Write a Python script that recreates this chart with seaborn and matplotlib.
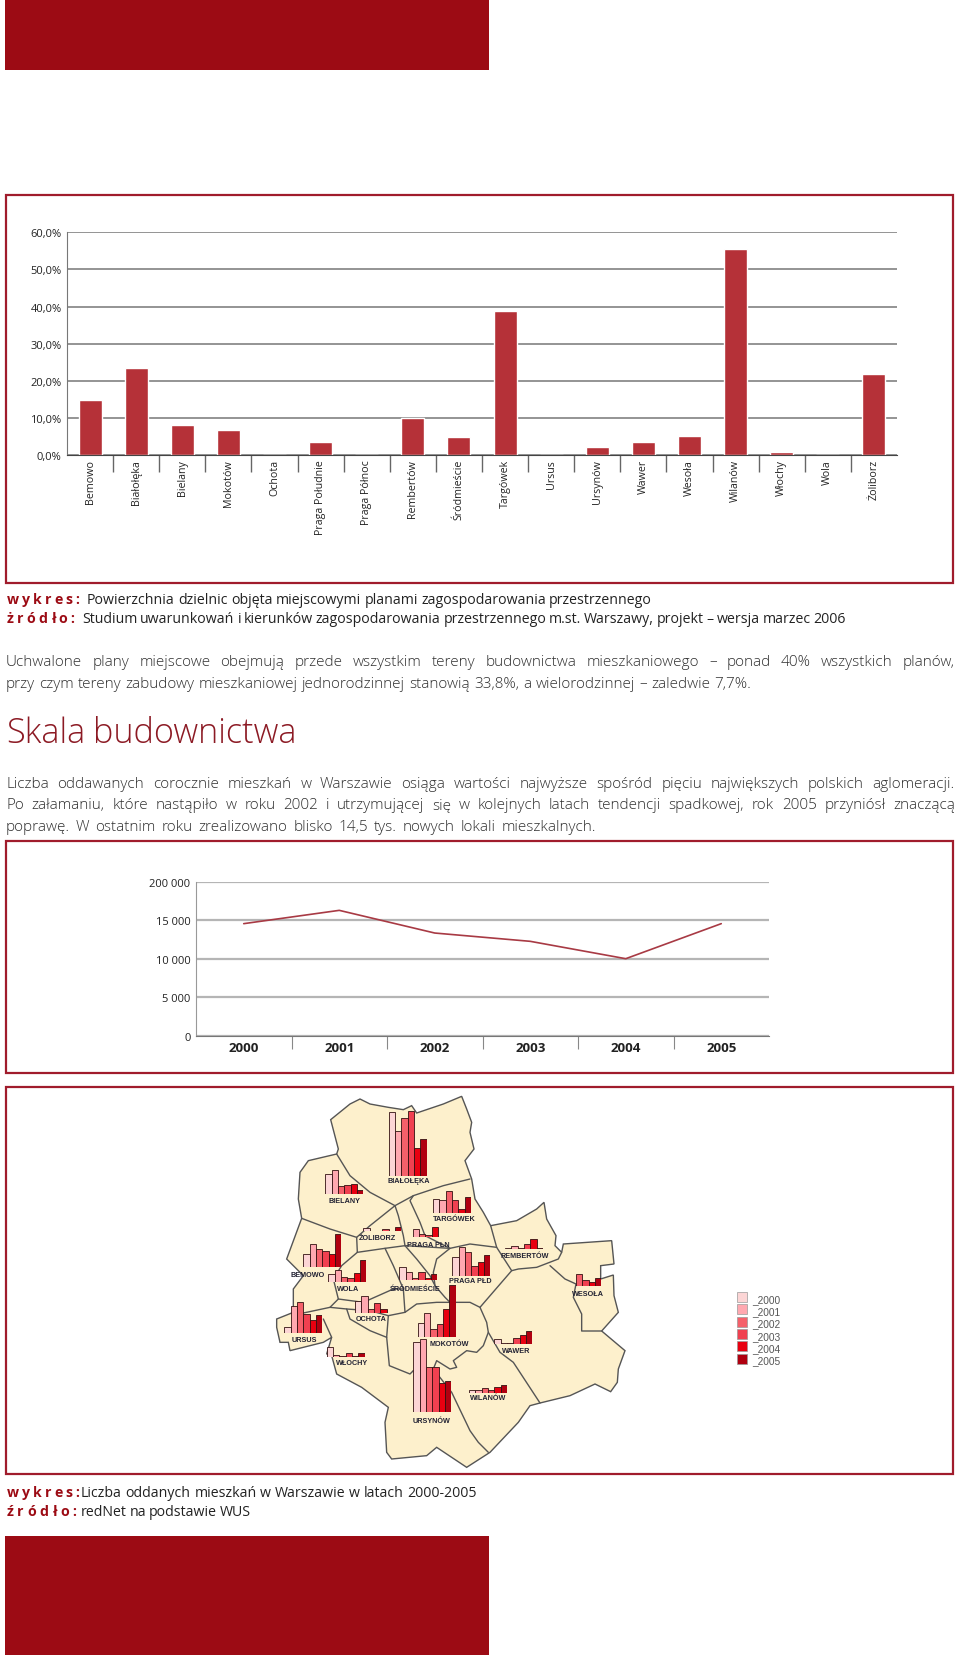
import matplotlib
matplotlib.use("Agg")
import matplotlib.pyplot as plt
from matplotlib.patches import Rectangle, Polygon
import seaborn as sns

sns.set_style("white")
plt.rcParams["font.family"] = ["Open Sans", "DejaVu Sans"]

W, H = 960, 1656
RED = "#9c0b14"
FRAME = "#a01c2c"
BAR = "#b53138"
BODY = "#303030"

# top chart
districts = ["Bemowo", "Białołęka", "Bielany", "Mokotów", "Ochota", "Praga Południe",
             "Praga Północ", "Rembertów", "Śródmieście", "Targówek", "Ursus", "Ursynów",
             "Wawer", "Wesoła", "Wilanów", "Włochy", "Wola", "Żoliborz"]
plan_share = [15.0, 23.5, 8.1, 6.7, 0, 3.7, 0, 10.0, 4.8, 38.7, 0, 2.2, 3.7, 5.2, 55.4, 1.0, 0, 21.8]
share_ticks = [0, 10, 20, 30, 40, 50, 60]
share_labels = ["0,0%", "10,0%", "20,0%", "30,0%", "40,0%", "50,0%", "60,0%"]

# line chart
years = ["2000", "2001", "2002", "2003", "2004", "2005"]
flats = [14580, 16310, 13360, 12280, 10020, 14580]
flat_ticks = [0, 5000, 10000, 15000, 20000]
flat_labels = ["0", "5 000", "10 000", "15 000", "200 000"]

# small bars on the map (no scale in the original, values read in map units)
map_values = {
    "BIAŁOŁĘKA": [192, 135, 175, 197, 85, 112],
    "BIELANY": [60, 70, 22, 25, 28, 10],
    "TARGÓWEK": [40, 38, 64, 38, 10, 47],
    "ŻOLIBORZ": [9, 2, 2, 8, 2, 12],
    "PRAGA PŁN": [1, 25, 8, 5, 29, 1],
    "REMBERTÓW": [1, 7, 3, 15, 30, 1],
    "BEMOWO": [40, 70, 55, 50, 40, 100],
    "WOLA": [22, 35, 15, 10, 27, 66],
    "PRAGA PŁD": [55, 87, 72, 30, 40, 62],
    "ŚRÓDMIEŚCIE": [40, 25, 5, 24, 7, 17],
    "WESOŁA": [0, 0, 37, 18, 12, 24],
    "OCHOTA": [36, 53, 14, 30, 12, 2],
    "URSUS": [18, 80, 92, 55, 38, 53],
    "MOKOTÓW": [42, 70, 22, 38, 84, 155],
    "WAWER": [13, 3, 3, 16, 27, 37],
    "WŁOCHY": [28, 5, 2, 11, 3, 11],
    "URSYNÓW": [208, 218, 133, 133, 85, 93],
    "WILANÓW": [9, 9, 15, 7, 17, 22],
}
# left of bars, baseline, label centre x, label centre y (crop units, 3 per pixel)
map_places = {
    "BIAŁOŁĘKA": (356, 262, 415, 275), "BIELANY": (166, 314, 222, 336),
    "TARGÓWEK": (489, 371, 552, 390), "ŻOLIBORZ": (280, 427, 322, 445),
    "PRAGA PŁN": (409, 444, 475, 467), "REMBERTÓW": (705, 479, 765, 500),
    "BEMOWO": (100, 535, 112, 556), "WOLA": (175, 578, 233, 598),
    "PRAGA PŁD": (547, 560, 602, 575), "ŚRÓDMIEŚCIE": (388, 573, 437, 598),
    "WESOŁA": (880, 591, 955, 613), "OCHOTA": (255, 673, 303, 689),
    "URSUS": (43, 731, 102, 751), "MOKOTÓW": (443, 743, 537, 763),
    "WAWER": (673, 764, 738, 785), "WŁOCHY": (170, 803, 245, 820),
    "URSYNÓW": (430, 968, 485, 995), "WILANÓW": (597, 911, 655, 925),
}
map_colors = ["#fcd5d5", "#ffa8b0", "#f5606a", "#f04050", "#e80010", "#b00010"]

outline = [(182, 92), (240, 45), (270, 30), (300, 45), (355, 55), (400, 62), (425, 50), (440, 72),
           (520, 45), (575, 22), (590, 60), (605, 100), (600, 130), (612, 180), (585, 215), (605, 270),
           (615, 330), (640, 370), (662, 410), (740, 395), (800, 360), (822, 340), (830, 390), (858, 440),
           (855, 470), (875, 490), (880, 465), (1025, 455), (1032, 525), (992, 530), (992, 570), (1030, 558),
           (1032, 620), (1045, 670), (995, 726), (1065, 785), (1045, 840), (1042, 880), (1022, 908),
           (975, 885), (900, 920), (810, 942), (780, 950), (745, 1000), (660, 1090), (590, 1135), (500, 1075),
           (470, 1100), (365, 1110), (350, 1090), (345, 1000), (355, 955), (275, 895), (200, 855), (185, 800),
           (170, 795), (185, 745), (160, 760), (60, 785), (55, 760), (30, 760), (20, 715), (20, 690),
           (70, 670), (70, 600), (100, 560), (50, 510), (95, 388), (85, 330), (90, 250), (115, 215),
           (200, 195), (205, 180)]
borders = [
    [(200, 195), (240, 260), (300, 310), (375, 350), (430, 320), (520, 290), (600, 270)],
    [(95, 388), (180, 420), (260, 445), (300, 410), (375, 350), (385, 380), (400, 440), (405, 470)],
    [(260, 445), (262, 490), (345, 478), (405, 470), (540, 478), (600, 465), (680, 475)],
    [(262, 490), (215, 530), (190, 570), (205, 630), (180, 655), (100, 672)],
    [(430, 320), (420, 335), (450, 400), (465, 440), (540, 478), (500, 510), (490, 550), (495, 590),
     (525, 625), (540, 640), (600, 640), (630, 655)],
    [(662, 410), (680, 475), (725, 545), (630, 655), (650, 700), (655, 730), (640, 770), (620, 790),
     (590, 785), (550, 815), (560, 835), (540, 840), (500, 815), (490, 840), (430, 845)],
    [(490, 840), (545, 910), (600, 1025), (625, 1060), (655, 1090)],
    [(725, 545), (745, 540), (800, 535), (865, 510), (875, 490)],
    [(840, 530), (885, 570), (918, 585), (910, 625), (935, 675), (935, 726), (995, 726)],
    [(345, 478), (370, 530), (400, 600), (405, 670), (440, 645), (500, 640), (540, 640)],
    [(405, 470), (440, 510), (480, 560), (495, 590)],
    [(205, 630), (280, 640), (370, 600), (400, 600)],
    [(180, 655), (230, 660), (300, 665), (355, 680), (405, 670)],
    [(230, 660), (240, 690), (300, 725), (350, 745), (355, 680)],
    [(350, 745), (358, 830), (420, 855), (430, 845)],
    [(160, 690), (185, 745)],
    [(655, 730), (690, 790), (730, 820), (810, 942)],
]


def crop(p):
    return 270 + p[0] / 3, 1090 + p[1] / 3


def box(left, top, right, bottom):
    return [left / W, 1 - bottom / H, (right - left) / W, (bottom - top) / H]


fig = plt.figure(figsize=(W / 100, H / 100), dpi=100)
page = fig.add_axes([0, 0, 1, 1])
page.set_xlim(0, W)
page.set_ylim(H, 0)
page.axis("off")
rend = fig.canvas.get_renderer()


def fit(s, x0, x1, y, size, color, **kw):
    # spreads the words of one line from x0 to x1, shrinks if it does not fit
    words = s.split(" ")
    while True:
        parts = [page.text(x0, y, w, fontsize=size, color=color, va="baseline", **kw) for w in words]
        widths = [t.get_window_extent(rend).width for t in parts]
        space = sum(widths) / max(len("".join(words)), 1) * 0.35
        if sum(widths) + space * (len(words) - 1) <= x1 - x0 or size < 4:
            break
        for t in parts:
            t.remove()
        size -= 0.1
    gap = (x1 - x0 - sum(widths)) / max(len(words) - 1, 1)
    x = x0
    for t, w in zip(parts, widths):
        t.set_x(x)
        x += w + gap


page.add_patch(Rectangle((5, 0), 484, 71, color=RED, lw=0))
page.add_patch(Rectangle((5, 1537), 484, 119, color=RED, lw=0))
for top, bottom in [(196, 584), (842, 1074), (1088, 1475)]:
    page.add_patch(Rectangle((6, top), 947, bottom - top, fill=False, ec=FRAME, lw=1.6))

# top bar chart
ax = fig.add_axes(box(67, 233.3, 897, 456.3))
ax.patch.set_alpha(0)
ax.set_axisbelow(True)
ax.yaxis.grid(True, color="#777777", lw=1.1)
sns.barplot(x=districts, y=plan_share, color=BAR, saturation=1, width=0.5, ax=ax)
ax.set_xlim(-0.5, 17.5)
ax.set_ylim(0, 60)
ax.set_yticks(share_ticks)
ax.set_yticklabels(share_labels, fontsize=8, color="#222222")
ax.tick_params(axis="y", length=0, pad=4)
ax.set_xticks(range(18))
ax.set_xticklabels(districts, rotation=90, fontsize=7.7, color="#222222", va="top")
ax.tick_params(axis="x", which="major", length=0, pad=2.5)
ax.set_xticks([i + 0.5 for i in range(17)], minor=True)
ax.tick_params(axis="x", which="minor", length=12, width=1, color="#666666", bottom=True)
sns.despine(ax=ax, top=True, right=True)
ax.spines["left"].set_color("#777777")
ax.spines["bottom"].set_color("#444444")

# captions and text
fit("w y k r e s :", 7, 79, 604, 10.2, RED, fontweight="bold")
fit("Powierzchnia dzielnic objęta miejscowymi planami zagospodarowania przestrzennego", 87, 652, 604, 10.2, "#222222")
fit("ż r ó d ł o :", 7, 74, 623, 10.2, RED, fontweight="bold")
fit("Studium uwarunkowań i kierunków zagospodarowania przestrzennego m.st. Warszawy, projekt – wersja marzec 2006", 82, 846, 623, 10.2, "#222222")
fit("Uchwalone plany miejscowe obejmują przede wszystkim tereny budownictwa mieszkaniowego – ponad 40% wszystkich planów,", 6, 955, 666, 11, BODY, fontweight="light")
fit("przy czym tereny zabudowy mieszkaniowej jednorodzinnej stanowią 33,8%, a wielorodzinnej – zaledwie 7,7%.", 6, 751, 688, 11, BODY, fontweight="light")
fit("Skala budownictwa", 6, 297, 743, 25, "#8c1a24", fontweight="light")
fit("Liczba oddawanych corocznie mieszkań w Warszawie osiąga wartości najwyższe spośród pięciu największych polskich aglomeracji.", 6, 955, 788, 11, BODY, fontweight="light")
fit("Po załamaniu, które nastąpiło w roku 2002 i utrzymującej się w kolejnych latach tendencji spadkowej, rok 2005 przyniósł znaczącą", 6, 955, 809, 11, BODY, fontweight="light")
fit("poprawę. W ostatnim roku zrealizowano blisko 14,5 tys. nowych lokali mieszkalnych.", 6, 596, 831, 11, BODY, fontweight="light")
fit("w y k r e s :", 7, 79, 1497, 10.2, RED, fontweight="bold")
fit("Liczba oddanych mieszkań w Warszawie w latach 2000-2005", 81, 477, 1497, 10.2, "#222222")
fit("ź r ó d ł o :", 7, 76, 1516, 10.2, RED, fontweight="bold")
fit("redNet na podstawie WUS", 81, 251, 1516, 10.2, "#222222")

# line chart
ax2 = fig.add_axes(box(196, 883, 769, 1036.7))
ax2.patch.set_alpha(0)
ax2.set_axisbelow(True)
ax2.yaxis.grid(True, color="#b5b5b5", lw=1.6)
sns.lineplot(x=years, y=flats, color="#a83a44", lw=1.2, sort=False, ax=ax2)
ax2.set_xlim(-0.5, 5.5)
ax2.set_ylim(0, 20000)
ax2.set_yticks(flat_ticks)
ax2.set_yticklabels(flat_labels, fontsize=8, color="#222222")
ax2.tick_params(axis="y", length=0, pad=4)
ax2.set_xticks(range(6))
ax2.set_xticklabels(years, fontsize=9.6, fontweight="bold", color="#222222")
ax2.tick_params(axis="x", which="major", length=0, pad=4)
ax2.set_xticks([i + 0.5 for i in range(5)], minor=True)
ax2.tick_params(axis="x", which="minor", length=9, width=0.8, color="#888888", bottom=True)
sns.despine(ax=ax2, top=True, right=True)
ax2.spines["left"].set_color("#999999")
ax2.spines["bottom"].set_color("#777777")

# map
page.add_patch(Polygon([crop(p) for p in outline], closed=True, fc="#fdf0cc", ec="#555555", lw=1.0))
for line in borders:
    pts = [crop(p) for p in line]
    page.plot([p[0] for p in pts], [p[1] for p in pts], color="#555555", lw=1.0)

for name, vals in map_values.items():
    left, base, lx, ly = map_places[name]
    x0, y0 = crop((left, base))
    a = fig.add_axes(box(x0, y0 - 76, x0 + 38, y0))
    sns.barplot(x=years, y=vals, hue=years, palette=map_colors, legend=False, width=1, saturation=1,
                edgecolor="#331111", linewidth=0.6, ax=a)
    a.set_xlim(-0.5, 5.5)
    a.set_ylim(0, 228)
    a.axis("off")
    a.patch.set_alpha(0)
    tx, ty = crop((lx, ly))
    page.text(tx, ty, name, fontsize=5.2, fontweight="bold", color="#222233", ha="center", va="center",
              family=["Liberation Sans", "DejaVu Sans"])

# map legend
for i, (y, c) in enumerate(zip(years, map_colors)):
    page.add_patch(Rectangle((737, 1293 + 12.3 * i), 10, 10, fc=c, ec="#999999", lw=0.5))
    page.text(752, 1303 + 12.3 * i, "_" + y, fontsize=7.3, color="#555555", va="baseline",
              family=["Liberation Sans", "DejaVu Sans"])

fig.savefig("out.png", dpi=100)
